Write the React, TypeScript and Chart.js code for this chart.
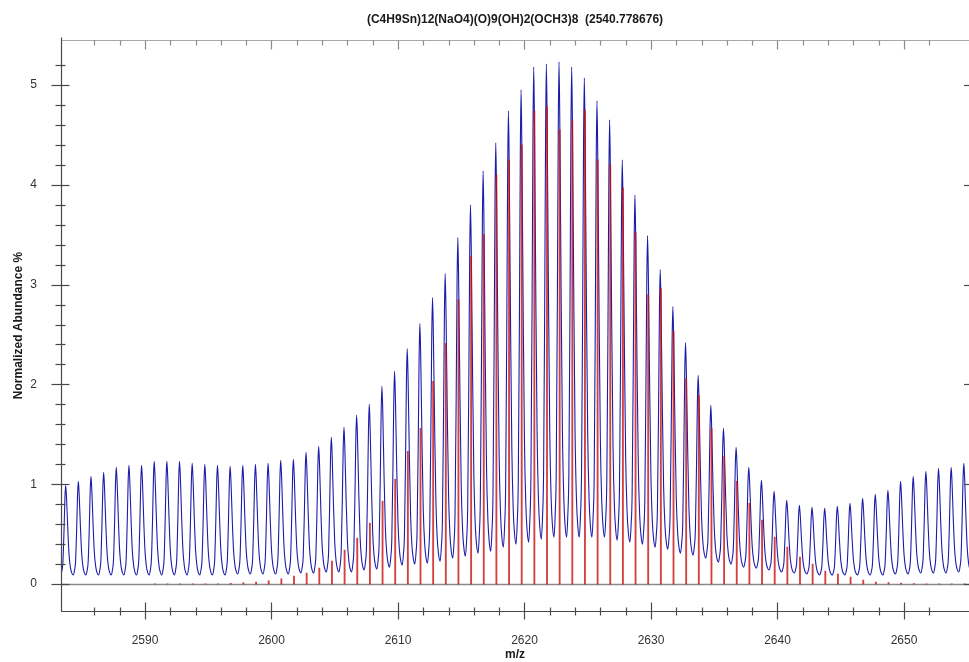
import { useEffect, useRef } from 'react';
import { Chart, registerables } from 'chart.js';

Chart.register(...registerables);

const titleText = '(C4H9Sn)12(NaO4)(O)9(OH)2(OCH3)8  (2540.778676)';
const xTitle = 'm/z';
const yTitle = 'Normalized Abundance %';

const xMin = 2583.36;
const xMax = 2655.14;
const yMin = -0.27;
const yMax = 5.45;
const xMinorStep = 2;
const xMajorStep = 10;
const yMinorStep = 0.2;
const yMajorStep = 1;

// measured profile peak tops (m/z)
const peakMz = [
  2583.73, 2584.73, 2585.73, 2586.73, 2587.73, 2588.73, 2589.73, 2590.73, 2591.73, 2592.73,
  2593.73, 2594.73, 2595.73, 2596.73, 2597.73, 2598.73, 2599.73, 2600.73, 2601.73, 2602.73,
  2603.73, 2604.73, 2605.73, 2606.73, 2607.73, 2608.73, 2609.73, 2610.73, 2611.73, 2612.73,
  2613.73, 2614.73, 2615.73, 2616.73, 2617.73, 2618.73, 2619.73, 2620.73, 2621.73, 2622.73,
  2623.73, 2624.73, 2625.73, 2626.73, 2627.73, 2628.73, 2629.73, 2630.73, 2631.73, 2632.73,
  2633.73, 2634.73, 2635.73, 2636.73, 2637.73, 2638.73, 2639.73, 2640.73, 2641.73, 2642.73,
  2643.73, 2644.73, 2645.73, 2646.73, 2647.73, 2648.73, 2649.73, 2650.73, 2651.73, 2652.73,
  2653.73, 2654.73,
];

const peakAbundance = [
  0.99, 1.03, 1.08, 1.12, 1.17, 1.19, 1.19, 1.23, 1.23, 1.23,
  1.21, 1.20, 1.19, 1.18, 1.19, 1.20, 1.21, 1.24, 1.25, 1.32,
  1.38, 1.47, 1.57, 1.69, 1.80, 1.98, 2.13, 2.36, 2.61, 2.87,
  3.11, 3.47, 3.80, 4.14, 4.42, 4.74, 4.95, 5.18, 5.21, 5.23,
  5.18, 5.07, 4.84, 4.65, 4.25, 3.90, 3.49, 3.15, 2.78, 2.42,
  2.09, 1.79, 1.56, 1.37, 1.17, 1.04, 0.93, 0.84, 0.79, 0.77,
  0.76, 0.78, 0.81, 0.86, 0.90, 0.94, 1.03, 1.08, 1.13, 1.16,
  1.17, 1.21,
];

// valley minimum before each peak (last one after final peak)
const valleyAbundance = [
  0.09, 0.09, 0.09, 0.09, 0.09, 0.09, 0.09, 0.09, 0.09, 0.09,
  0.09, 0.09, 0.09, 0.09, 0.10, 0.10, 0.10, 0.10, 0.10, 0.11,
  0.11, 0.12, 0.12, 0.12, 0.14, 0.15, 0.17, 0.19, 0.20, 0.21,
  0.23, 0.26, 0.28, 0.31, 0.33, 0.37, 0.40, 0.42, 0.45, 0.47,
  0.47, 0.47, 0.47, 0.47, 0.44, 0.42, 0.40, 0.37, 0.35, 0.31,
  0.29, 0.26, 0.22, 0.20, 0.17, 0.16, 0.14, 0.12, 0.11, 0.10,
  0.09, 0.09, 0.09, 0.09, 0.09, 0.09, 0.10, 0.10, 0.11, 0.11,
  0.11, 0.12, 0.12,
];

// peak shape read from the profile: [offset in m/z, fraction of height above valley]
const riseShape = [
  [-0.4, 0], [-0.3, 0.05], [-0.22, 0.14], [-0.13, 0.5], [-0.06, 0.86], [0, 1],
];
const fallShape = [
  [0.07, 0.85], [0.17, 0.5], [0.27, 0.22], [0.38, 0.08], [0.48, 0.025],
];

// theoretical isotope sticks
const stickMz = [
  2590.78, 2591.78, 2592.78, 2593.78, 2594.78, 2595.78, 2596.78, 2597.78, 2598.78, 2599.78,
  2600.78, 2601.78, 2602.78, 2603.78, 2604.78, 2605.78, 2606.78, 2607.78, 2608.78, 2609.78,
  2610.78, 2611.78, 2612.78, 2613.78, 2614.78, 2615.78, 2616.78, 2617.78, 2618.78, 2619.78,
  2620.78, 2621.78, 2622.78, 2623.78, 2624.78, 2625.78, 2626.78, 2627.78, 2628.78, 2629.78,
  2630.78, 2631.78, 2632.78, 2633.78, 2634.78, 2635.78, 2636.78, 2637.78, 2638.78, 2639.78,
  2640.78, 2641.78, 2642.78, 2643.78, 2644.78, 2645.78, 2646.78, 2647.78, 2648.78, 2649.78,
  2650.78, 2651.78, 2652.78, 2653.78, 2654.78,
];

const stickAbundance = [
  0.002, 0.002, 0.002, 0.002, 0.002, 0.002, 0.007, 0.013, 0.02, 0.033,
  0.053, 0.08, 0.11, 0.16, 0.23, 0.34, 0.46, 0.61, 0.83, 1.05,
  1.33, 1.56, 2.03, 2.41, 2.85, 3.28, 3.50, 4.10, 4.25, 4.40,
  4.74, 4.78, 4.55, 4.64, 4.75, 4.25, 4.20, 3.97, 3.52, 2.90,
  2.96, 2.53, 2.06, 1.89, 1.56, 1.28, 1.03, 0.81, 0.64, 0.47,
  0.37, 0.27, 0.20, 0.13, 0.10, 0.07, 0.04, 0.02, 0.015, 0.01,
  0.005, 0.002, 0.002, 0.002, 0.002,
];

const FONT = '"Liberation Sans", Arial, sans-serif';

function buildProfile() {
  const pts: { x: number; y: number }[] = [];
  for (let i = 0; i < peakMz.length; i++) {
    const c = peakMz[i];
    const h = peakAbundance[i];
    const v0 = valleyAbundance[i];
    const v1 = valleyAbundance[i + 1];
    for (const [dx, f] of riseShape) pts.push({ x: c + dx, y: v0 + f * (h - v0) });
    for (const [dx, f] of fallShape) pts.push({ x: c + dx, y: v1 + f * (h - v1) });
  }
  const last = peakMz.length - 1;
  pts.push({ x: peakMz[last] + 0.6, y: valleyAbundance[last + 1] });
  return pts;
}

const isMultiple = (v: number, step: number) => Math.abs(v / step - Math.round(v / step)) < 1e-6;

const framePlugin = {
  id: 'frame',
  beforeDatasetsDraw(chart: any) {
    const { ctx, chartArea, scales } = chart;
    const y0 = Math.round(scales.y.getPixelForValue(0)) + 0.5;
    ctx.save();
    ctx.strokeStyle = '#8a8a8a';
    ctx.lineWidth = 1.3;
    ctx.beginPath();
    ctx.moveTo(chartArea.left, y0);
    ctx.lineTo(chartArea.right, y0);
    ctx.stroke();
    ctx.restore();
  },
  afterDraw(chart: any) {
    const { ctx, chartArea, scales } = chart;
    const { left, right, top, bottom } = chartArea;
    const L = Math.round(left) + 0.5;
    const B = Math.round(bottom) + 0.5;
    const T = Math.round(top) + 0.5;
    ctx.save();
    // top border
    ctx.strokeStyle = '#a8a8a8';
    ctx.lineWidth = 1;
    ctx.beginPath();
    ctx.moveTo(L, T);
    ctx.lineTo(right, T);
    ctx.stroke();
    // left and bottom axes
    ctx.strokeStyle = '#4a4a4a';
    ctx.lineWidth = 1.2;
    ctx.beginPath();
    ctx.moveTo(L, T - 3);
    ctx.lineTo(L, B);
    ctx.lineTo(right, B);
    ctx.stroke();

    // x ticks
    for (const t of scales.x.ticks) {
      const v = t.value;
      if (!isMultiple(v, xMinorStep)) continue;
      const major = isMultiple(v, xMajorStep);
      const px = Math.round(scales.x.getPixelForValue(v)) + 0.5;
      ctx.strokeStyle = '#4a4a4a';
      ctx.beginPath();
      ctx.moveTo(px, B - (major ? 9 : 4));
      ctx.lineTo(px, B + (major ? 8 : 4));
      ctx.stroke();
      ctx.strokeStyle = '#8a8a8a';
      ctx.beginPath();
      ctx.moveTo(px, T);
      ctx.lineTo(px, T + (major ? 9 : 5));
      ctx.stroke();
    }
    // y ticks
    for (const t of scales.y.ticks) {
      const v = t.value;
      if (!isMultiple(v, yMinorStep)) continue;
      const major = isMultiple(v, yMajorStep);
      const py = Math.round(scales.y.getPixelForValue(v)) + 0.5;
      ctx.strokeStyle = '#4a4a4a';
      ctx.beginPath();
      ctx.moveTo(L - (major ? 10 : 6), py);
      ctx.lineTo(L + (major ? 8 : 4), py);
      ctx.stroke();
      if (major) {
        ctx.beginPath();
        ctx.moveTo(right - 5, py);
        ctx.lineTo(right, py);
        ctx.stroke();
      }
    }

    // title
    ctx.fillStyle = '#1a1a1a';
    ctx.font = `bold 12px ${FONT}`;
    ctx.textAlign = 'center';
    ctx.textBaseline = 'middle';
    ctx.fillText(titleText, (left + right) / 2, 20);
    ctx.restore();
  },
};

export default function App() {
  const ref = useRef<HTMLCanvasElement | null>(null);

  useEffect(() => {
    document.body.style.margin = '0';
    const canvas = ref.current;
    if (!canvas) return;
    const profile = buildProfile();
    const sticks = stickMz.map((m, i) => ({ x: m, y: stickAbundance[i] }));

    const chart = new Chart(canvas, {
      type: 'line',
      data: {
        datasets: [
          {
            type: 'bar',
            label: 'Theoretical',
            data: sticks as any,
            backgroundColor: 'rgba(200, 16, 16, 0.8)',
            borderWidth: 0,
            barThickness: 1.2,
            grouped: false,
            order: 0,
          } as any,
          {
            type: 'line',
            label: 'Profile',
            data: profile as any,
            borderColor: '#1c1caa',
            borderWidth: 1.1,
            pointRadius: 0,
            fill: false,
            cubicInterpolationMode: 'monotone',
            order: 1,
          } as any,
        ],
      },
      options: {
        responsive: false,
        animation: false,
        devicePixelRatio: 1,
        layout: { padding: { top: 40, left: 0, right: 0, bottom: 0 } },
        plugins: {
          legend: { display: false },
          tooltip: { enabled: false },
          title: { display: false },
        },
        scales: {
          x: {
            type: 'linear',
            min: xMin,
            max: xMax,
            offset: false,
            grid: { display: false },
            border: { display: false },
            ticks: {
              stepSize: xMinorStep,
              autoSkip: false,
              maxRotation: 0,
              padding: 14,
              color: '#333333',
              font: { family: FONT, size: 12 },
              callback: (v: any) => (isMultiple(Number(v), xMajorStep) ? String(Math.round(Number(v))) : ''),
            },
            title: {
              display: true,
              text: xTitle,
              color: '#1a1a1a',
              font: { family: FONT, size: 12, weight: 'bold' },
              padding: { top: 0, bottom: 0 },
            },
            afterFit: (s: any) => {
              s.height = 51;
              s.paddingLeft = 0;
              s.paddingRight = 0;
            },
          },
          y: {
            type: 'linear',
            min: yMin,
            max: yMax,
            grid: { display: false },
            border: { display: false },
            ticks: {
              stepSize: yMinorStep,
              autoSkip: false,
              padding: 16,
              color: '#333333',
              font: { family: FONT, size: 12 },
              callback: (v: any) => (isMultiple(Number(v), yMajorStep) ? String(Math.round(Number(v))) : ''),
            },
            title: {
              display: true,
              text: yTitle,
              color: '#1a1a1a',
              font: { family: FONT, size: 12, weight: 'bold' },
              padding: { top: 11, bottom: 0 },
            },
            afterFit: (s: any) => {
              s.width = 61;
              s.paddingTop = 0;
              s.paddingBottom = 0;
            },
          },
        },
      } as any,
      plugins: [framePlugin],
    });
    return () => chart.destroy();
  }, []);

  return <canvas ref={ref} width={969} height={662} style={{ display: 'block' }} />;
}
